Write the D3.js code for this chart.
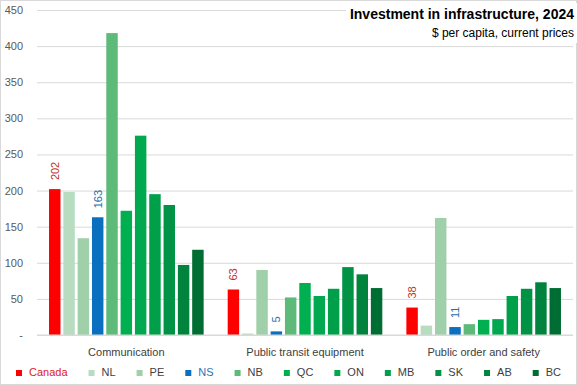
<!DOCTYPE html>
<html>
<head>
<meta charset="utf-8">
<script src="https://cdn.jsdelivr.net/npm/d3@7"></script>
<style>
  body { margin: 0; background: #fff; }
  text { font-family: "Liberation Sans", Arial, sans-serif; }
</style>
</head>
<body>
<div id="chart"></div>
<script>
var categories = ['Communication', 'Public transit equipment', 'Public order and safety'];
var series = ['Canada', 'NL', 'PE', 'NS', 'NB', 'QC', 'ON', 'MB', 'SK', 'AB', 'BC'];
var colors = ['#ff0000', '#b7dcc0', '#9fd0a9', '#0b6fbf', '#5dba78', '#00b050', '#00a94f', '#00a04a', '#009345', '#00843d', '#006d33'];
var communication = [202, 198, 134, 163, 418, 172, 276, 195, 180, 97, 118];
var transit = [63, 2, 90, 5, 52, 72, 54, 64, 94, 84, 65];
var safety = [38, 13, 162, 11, 15, 21, 22, 54, 64, 73, 65];
var yTicks = [0, 50, 100, 150, 200, 250, 300, 350, 400, 450];
var labelled = ['Canada', 'NS'];

var values = [communication, transit, safety];

var W = 577, H = 385;
var svg = d3.select('#chart').append('svg')
	.attr('width', W)
	.attr('height', H);

// chart border
svg.append('rect')
	.attr('x', 0.5).attr('y', 0.5)
	.attr('width', W - 1).attr('height', H - 1)
	.attr('fill', '#fff')
	.attr('stroke', '#d9d9d9');

var plotL = 37, plotR = 573, plotT = 10, plotB = 335;

var y = d3.scaleLinear().domain([0, 450]).range([plotB, plotT]);
var x0 = d3.scaleBand().domain(categories).range([plotL, plotR]);
var x1 = d3.scaleBand().domain(series).range([0, x0.bandwidth()])
	.paddingInner(0.2).paddingOuter(0.84);

// gridlines + ticks
var yAxis = svg.append('g')
	.attr('transform', 'translate(' + plotL + ',0)')
	.call(d3.axisLeft(y).tickValues(yTicks).tickSize(-(plotR - plotL))
		.tickFormat(function (d) { return d === 0 ? '-' : d; }));
yAxis.select('.domain').remove();
yAxis.selectAll('.tick line').attr('stroke', '#d9d9d9');
yAxis.selectAll('.tick text')
	.attr('x', -14)
	.attr('fill', '#595959')
	.style('font-size', '11px');

// bars
var groups = svg.selectAll('g.cat')
	.data(categories)
	.enter().append('g')
	.attr('class', 'cat')
	.attr('transform', function (d) { return 'translate(' + x0(d) + ',0)'; });

groups.selectAll('rect')
	.data(function (d, i) {
		return series.map(function (s, j) { return { s: s, v: values[i][j], c: colors[j] }; });
	})
	.enter().append('rect')
	.attr('x', function (d) { return x1(d.s); })
	.attr('y', function (d) { return y(d.v); })
	.attr('width', x1.bandwidth())
	.attr('height', function (d) { return plotB - y(d.v); })
	.attr('fill', function (d) { return d.c; });

// value labels (Canada and NS only)
groups.selectAll('text.val')
	.data(function (d, i) {
		return series.map(function (s, j) { return { s: s, v: values[i][j] }; })
			.filter(function (d) { return labelled.indexOf(d.s) >= 0; });
	})
	.enter().append('text')
	.attr('class', 'val')
	.attr('transform', function (d) {
		return 'translate(' + (x1(d.s) + x1.bandwidth() / 2 + 4) + ',' + (y(d.v) - 9) + ') rotate(-90)';
	})
	.attr('fill', function (d) { return d.s === 'Canada' ? '#c0302b' : '#2e6da4'; })
	.style('font-size', '11px')
	.text(function (d) { return d.v; });

// baseline
svg.append('line')
	.attr('x1', plotL).attr('x2', plotR)
	.attr('y1', plotB).attr('y2', plotB)
	.attr('stroke', '#d9d9d9');

// category labels
svg.selectAll('text.cat')
	.data(categories)
	.enter().append('text')
	.attr('class', 'cat')
	.attr('x', function (d) { return x0(d) + x0.bandwidth() / 2; })
	.attr('y', 356)
	.attr('text-anchor', 'middle')
	.attr('fill', '#404040')
	.style('font-size', '11px')
	.text(function (d) { return d; });

// title
var tbg = svg.append('rect').attr('fill', '#fff');
var title = svg.append('text')
	.attr('x', 574).attr('y', 19)
	.attr('text-anchor', 'end')
	.attr('fill', '#000')
	.style('font-size', '14px')
	.style('font-weight', 'bold')
	.text('Investment in infrastructure, 2024');
svg.append('text')
	.attr('x', 574).attr('y', 37)
	.attr('text-anchor', 'end')
	.attr('fill', '#000')
	.style('font-size', '12px')
	.text('$ per capita, current prices');
var tb = title.node().getBBox();
tbg.attr('x', tb.x - 4).attr('y', 3).attr('width', tb.width + 8).attr('height', 40);

// legend
var legend = svg.append('g');
var lx = 0;
series.forEach(function (s, j) {
	var item = legend.append('g').attr('transform', 'translate(' + lx + ',0)');
	item.append('rect')
		.attr('x', 0).attr('y', -6)
		.attr('width', 6).attr('height', 6)
		.attr('fill', colors[j]);
	var t = item.append('text')
		.attr('x', 13).attr('y', 0)
		.attr('fill', s === 'Canada' ? '#e02020' : (s === 'NS' ? '#2e75b6' : '#404040'))
		.style('font-size', '11px')
		.text(s);
	lx += 13 + t.node().getComputedTextLength() + 21;
});
var lw = lx - 21;
legend.attr('transform', 'translate(' + (288.5 - lw / 2) + ',376)');
</script>
</body>
</html>
